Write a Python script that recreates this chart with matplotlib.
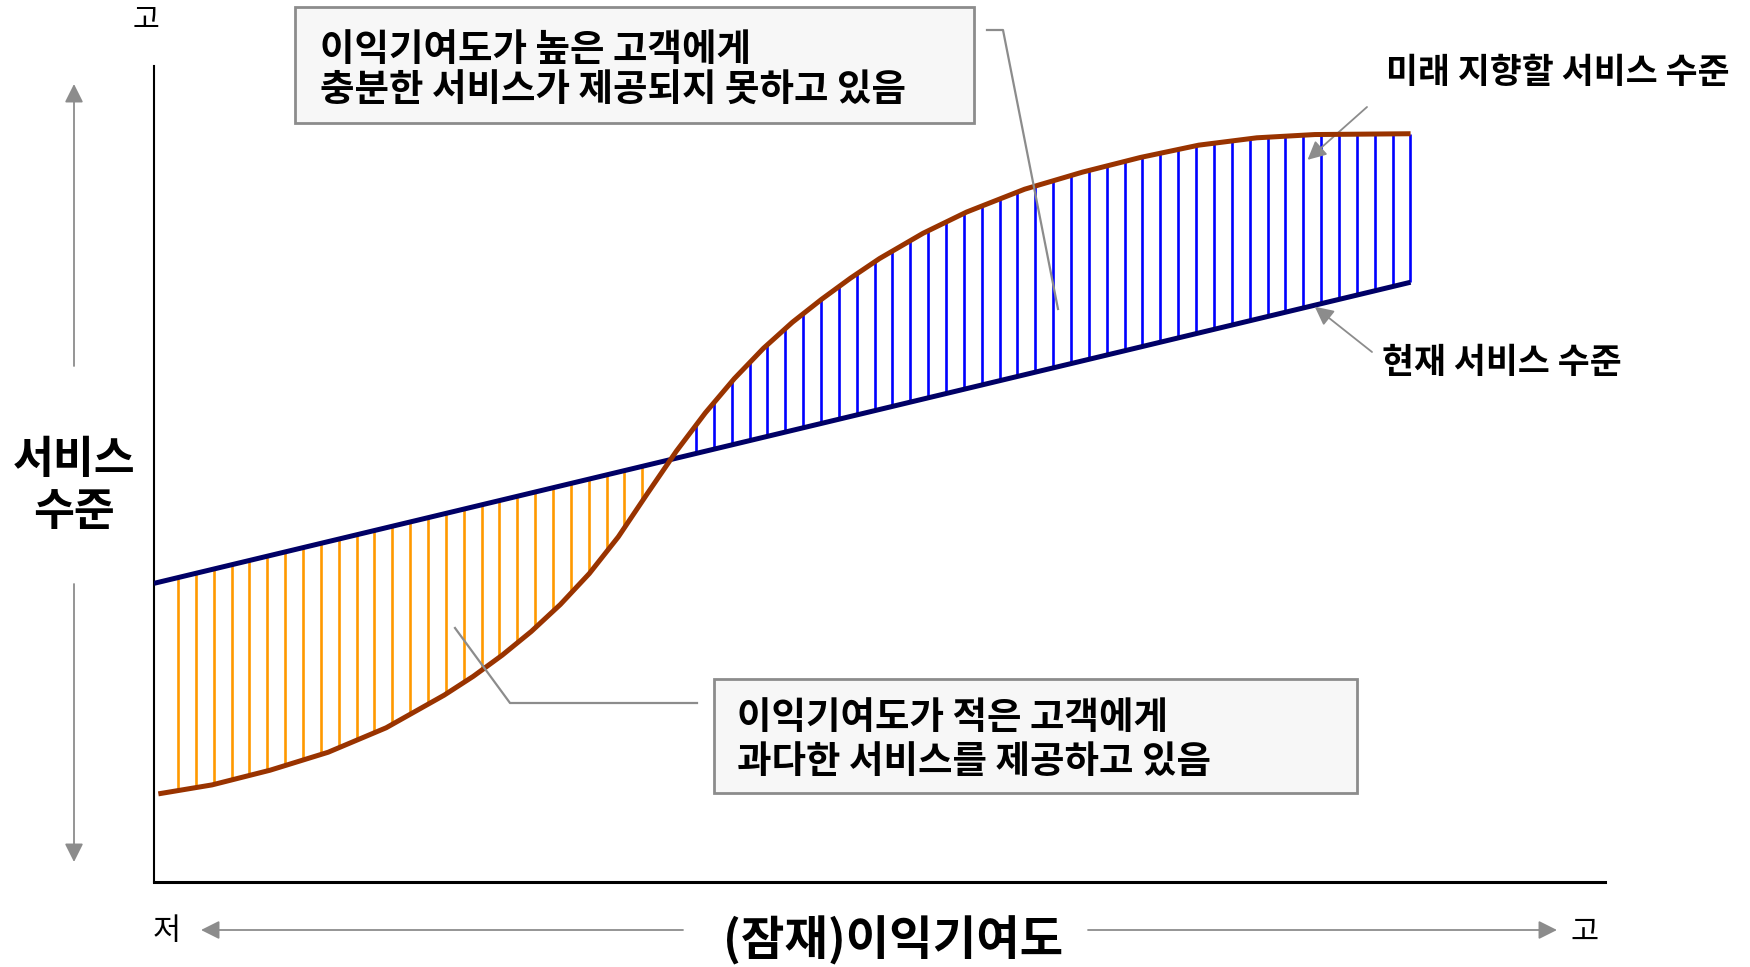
import numpy as np
import matplotlib.pyplot as plt
from matplotlib.lines import Line2D
from matplotlib.patches import Rectangle

plt.rcParams['font.family'] = ['Noto Sans CJK KR', 'DejaVu Sans']

W, H = 1750, 967

# future target service level (brown S-curve)
target_x = [0.3, 4, 8, 12, 16, 20, 22, 24, 26, 28, 30, 32, 34, 36, 38, 40, 42,
            44, 46, 48, 50, 53, 56, 60, 64, 68, 72, 76, 80, 86.6]
target_y = [10.8, 11.9, 13.7, 15.9, 18.9, 22.9, 25.2, 27.8, 30.7, 34.0, 37.8,
            42.3, 47.6, 52.8, 57.5, 61.7, 65.4, 68.6, 71.4, 74.0, 76.4, 79.5,
            82.1, 84.9, 87.0, 88.8, 90.3, 91.2, 91.6, 91.7]

# current service level (navy straight line)
current_x = [0, 86.6]
current_y = [36.6, 73.5]

labels_box_top = ['이익기여도가 높은 고객에게', '충분한 서비스가 제공되지 못하고 있음']
labels_box_bottom = ['이익기여도가 적은 고객에게', '과다한 서비스를 제공하고 있음']


def fp(x, y):
    # reference pixel -> figure fraction
    return (x / W, 1 - y / H)


fig = plt.figure(figsize=(17.5, 9.67), dpi=100)
ax = fig.add_axes([154 / W, 1 - 882 / H, (1605 - 154) / W, (882 - 66) / H])
ax.set_xlim(0, 100)
ax.set_ylim(0, 100)
ax.set_xticks([])
ax.set_yticks([])
for s in ['top', 'right']:
    ax.spines[s].set_visible(False)
ax.spines['left'].set_linewidth(1.5)
ax.spines['bottom'].set_linewidth(2.2)

# vertical hatching between the two levels
xh = np.arange(1.65, 86.7, 1.231)
yt = np.interp(xh, target_x, target_y)
yc = np.interp(xh, current_x, current_y)
keep = np.abs(yt - yc) > 2
over = keep & (yt < yc)
under = keep & (yt > yc)
ax.vlines(xh[over], yt[over], yc[over], color='#FF9900', lw=1.9, zorder=1)
ax.vlines(xh[under], yc[under], yt[under], color='#0000FF', lw=1.9, zorder=1)

ax.plot(current_x, current_y, color='#000066', lw=3.6, zorder=3, solid_capstyle='butt')
ax.plot(target_x, target_y, color='#993300', lw=3.6, zorder=4, solid_capstyle='butt',
        solid_joinstyle='round')

gray = '#8c8c8c'
arrow = dict(arrowstyle='-|>', color=gray, lw=1.3, mutation_scale=28, shrinkA=0, shrinkB=0)

# axis direction arrows and labels
fig.text(*fp(146, 20), '고', ha='center', va='center', fontsize=21)
fig.text(*fp(167, 932), '저', ha='center', va='center', fontsize=22)
fig.text(*fp(1585, 932), '고', ha='center', va='center', fontsize=22)
fig.text(*fp(893, 941), '(잠재)이익기여도', ha='center', va='center', fontsize=34,
         fontweight='bold')
fig.text(*fp(74, 486), '서비스\n수준', ha='center', va='center', fontsize=32,
         fontweight='bold', linespacing=1.15)

ax.annotate('', xy=fp(74, 84), xytext=fp(74, 366), xycoords='figure fraction',
            textcoords='figure fraction', arrowprops=arrow)
ax.annotate('', xy=fp(74, 862), xytext=fp(74, 584), xycoords='figure fraction',
            textcoords='figure fraction', arrowprops=arrow)
ax.annotate('', xy=fp(201, 930), xytext=fp(683, 930), xycoords='figure fraction',
            textcoords='figure fraction', arrowprops=arrow)
ax.annotate('', xy=fp(1557, 930), xytext=fp(1088, 930), xycoords='figure fraction',
            textcoords='figure fraction', arrowprops=arrow)

# series labels
fig.text(*fp(1386, 72), '미래 지향할 서비스 수준', ha='left', va='center', fontsize=25,
         fontweight='bold')
fig.text(*fp(1382, 362), '현재 서비스 수준', ha='left', va='center', fontsize=25,
         fontweight='bold')
ax.annotate('', xy=(79.5, 88.5), xycoords='data', xytext=fp(1367, 107),
            textcoords='figure fraction', arrowprops=arrow)
ax.annotate('', xy=(80.0, 70.5), xycoords='data', xytext=fp(1372, 352),
            textcoords='figure fraction', arrowprops=arrow)

# callout boxes
for (x0, y0, x1, y1) in [(295, 7, 974, 123), (714, 679, 1357, 793)]:
    fig.add_artist(Rectangle(fp(x0, y1), (x1 - x0) / W, (y1 - y0) / H,
                             transform=fig.transFigure, facecolor='#f7f7f7',
                             edgecolor=gray, lw=2))
for i, t in enumerate(labels_box_top):
    fig.text(*fp(320, 50 + 40 * i), t, ha='left', va='center', fontsize=27,
             fontweight='bold')
for i, t in enumerate(labels_box_bottom):
    fig.text(*fp(737, 717 + 45 * i), t, ha='left', va='center', fontsize=27,
             fontweight='bold')

# leader lines
for pts in [[(987, 30), (1003, 30), (1058, 309)], [(455, 628), (510, 703), (697, 703)]]:
    xs = [fp(x, y)[0] for x, y in pts]
    ys = [fp(x, y)[1] for x, y in pts]
    fig.add_artist(Line2D(xs, ys, transform=fig.transFigure, color=gray, lw=1.6))

fig.savefig('out.png', dpi=100)
